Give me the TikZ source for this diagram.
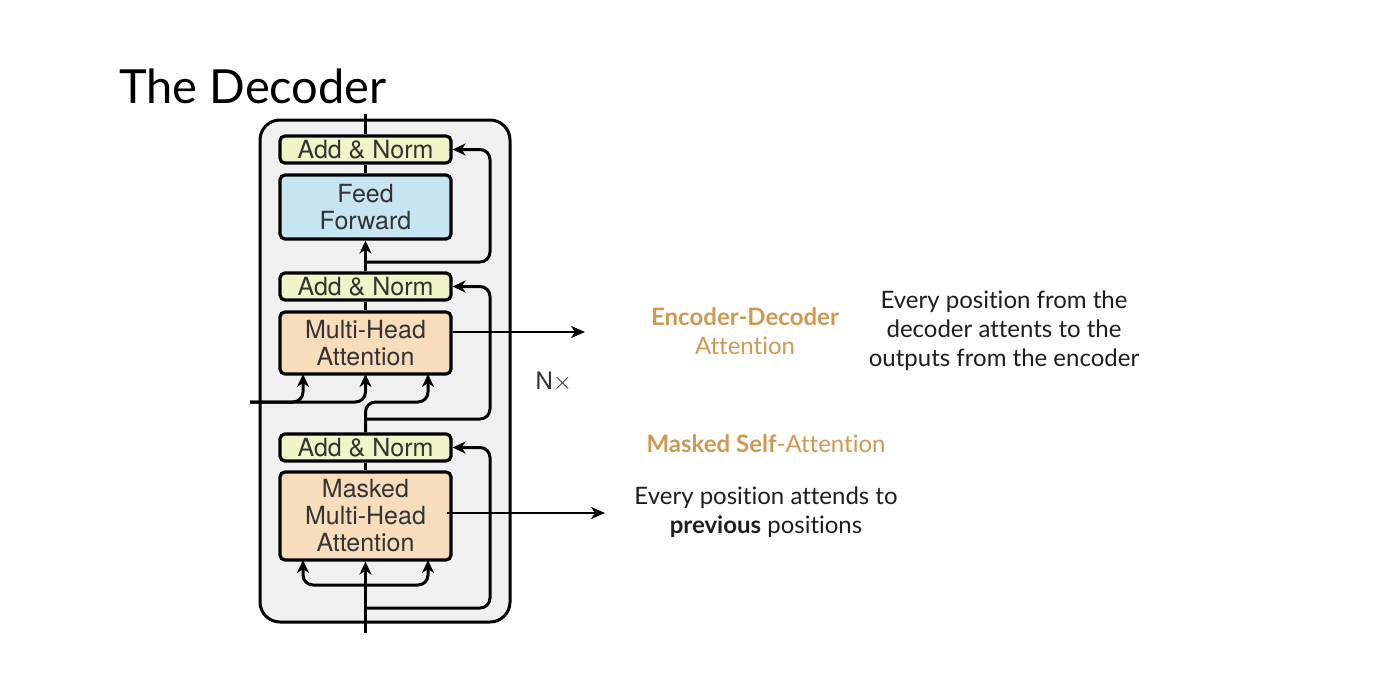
\documentclass[tikz,border=0pt]{standalone}
\usepackage{fontspec}
\setmainfont{Lato}[Ligatures=NoCommon]
\newfontfamily\helv{TeX Gyre Heros}
\usetikzlibrary{arrows.meta}
\definecolor{outerfill}{HTML}{F0F0F0}
\definecolor{normfill}{HTML}{EFF5C6}
\definecolor{fffill}{HTML}{C6E4F1}
\definecolor{attfill}{HTML}{F8DDBD}
\definecolor{tan}{HTML}{CC9A52}
\definecolor{boxtext}{HTML}{333333}
\definecolor{bodytext}{HTML}{1E1E1E}
\tikzset{
  blk/.style={draw=black, line width=3.2pt, rounded corners=5pt, minimum width=171pt,
    align=center, text=boxtext, font=\helv\fontsize{25}{28}\selectfont, inner sep=0pt},
  normblk/.style={blk, fill=normfill, minimum height=27pt},
  conn/.style={line width=3pt, rounded corners=10pt},
  arr/.style={conn, -{Stealth[length=13pt,width=12pt,inset=4pt]}},
  outarr/.style={line width=2pt, -{Stealth[length=14pt,width=12pt,inset=4pt]}},
  body/.style={text=bodytext, font=\fontsize{24}{29}\selectfont, align=center},
  hl/.style={text=tan, font=\fontsize{24}{29}\selectfont, align=center}
}
\begin{document}
\begin{tikzpicture}[x=1pt,y=-1pt]
\useasboundingbox (0,0) rectangle (1378,672);
\fill[white] (0,0) rectangle (1378,672);
% title
\node[anchor=base west, inner sep=0pt, text=black, font=\fontsize{47}{50}\selectfont] (title) at (119,103) {The Decoder};
% outer box
\node[draw=black, line width=3pt, rounded corners=20pt, fill=outerfill, minimum width=250pt, minimum height=502pt, inner sep=0pt] (outer) at (385,371) {};
% blocks
\node[normblk] (an1) at (365.5,149.5) {Add \& Norm};
\node[blk, fill=fffill, minimum height=64pt] (ff) at (365.5,207) {Feed\\[-1pt]Forward};
\node[normblk] (an2) at (365.5,286.5) {Add \& Norm};
\node[blk, fill=attfill, minimum height=62pt] (mha) at (365.5,343) {Multi-Head\\[-1pt]Attention};
\node[normblk] (an3) at (365.5,447.5) {Add \& Norm};
\node[blk, fill=attfill, minimum height=88pt] (mmha) at (365.5,516) {Masked\\[-1pt]Multi-Head\\[-1pt]Attention};
% coordinates
\coordinate (top) at (365.5,114);
\coordinate (inp) at (365.5,633);
\coordinate (enc) at (250,402);
\coordinate (out1) at (585,332);
\coordinate (out2) at (605,513);
% main line
\draw[conn] (an1.north) -- (top);
\draw[conn] (an1.south) -- (ff.north);
\draw[arr] (an2.north) -- (ff.south);
\draw[conn] (an2.south) -- (mha.north);
\draw[conn] (an3.south) -- (mmha.north);
\draw[arr] (inp) -- (mmha.south);
% residuals
\draw[arr] (365.5,262) -- (490,262) -- (490,149.5) -- (an1.east);
\draw[arr] (365.5,419) -- (490,419) -- (490,286.5) -- (an2.east);
\draw[arr] (365.5,608) -- (490,608) -- (490,447.5) -- (an3.east);
% MHA inputs
\draw[arr] (enc) -- (303,402) -- (303,374);
\draw[arr] (enc) -- (365.5,402) -- (365.5,374);
\draw[arr] (an3.north) -- (365.5,402) -- (428,402) -- (428,374);
% masked inputs
\draw[arr] (365.5,585) -- (303,585) -- (303,560);
\draw[arr] (365.5,585) -- (428,585) -- (428,560);
% outputs
\draw[outarr] (mha.east |- out1) -- (out1);
\draw[outarr] (447,513) -- (out2);
% labels
\node[anchor=west, text=boxtext, font=\helv\fontsize{24}{26}\selectfont] (nx) at (532,382) {N$\times$};
\node[hl] (ed) at (745,331) {\textbf{Encoder-Decoder}\\Attention};
\node[body] (edtxt) at (1004,331) {Every position from the\\decoder attents to the\\outputs from the encoder};
\node[hl] (ms) at (766,444) {\textbf{Masked Self}-Attention};
\node[body] (mstxt) at (766,512) {Every position attends to\\\textbf{previous} positions};
\end{tikzpicture}
\end{document}
